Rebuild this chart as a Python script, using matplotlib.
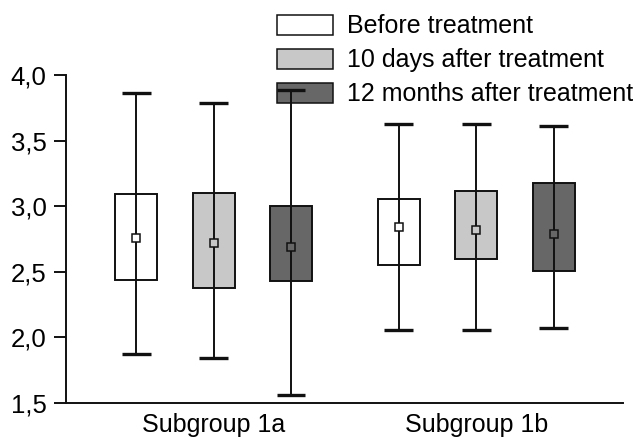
import matplotlib
matplotlib.use("Agg")
import matplotlib.pyplot as plt
from matplotlib.patches import Patch
import numpy as np

plt.rcParams['font.family'] = ['Liberation Sans', 'DejaVu Sans']

groups = ["Subgroup 1a", "Subgroup 1b"]
series = ["Before treatment", "10 days after treatment", "12 months after treatment"]
colors = ["#ffffff", "#c8c8c8", "#676767"]

# per series: values for [Subgroup 1a, Subgroup 1b]
box_low = [[2.435, 2.552], [2.379, 2.595], [2.428, 2.504]]
box_high = [[3.09, 3.055], [3.10, 3.114], [3.00, 3.175]]
means = [[2.76, 2.841], [2.72, 2.819], [2.69, 2.788]]
whisk_low = [[1.873, 2.056], [1.84, 2.056], [1.559, 2.069]]
whisk_high = [[3.865, 3.627], [3.784, 3.624], [3.888, 3.611]]

yticks = [1.5, 2.0, 2.5, 3.0, 3.5, 4.0]
ytick_labels = ["1,5", "2,0", "2,5", "3,0", "3,5", "4,0"]

fig = plt.figure(figsize=(6.34, 4.37), dpi=100)
ax = fig.add_axes([0.104, 0.078, 0.879, 0.750])
ax.patch.set_visible(False)

x = np.arange(len(groups))
offset = 0.295
width = 0.16
cap = 0.055
edge = "#111111"

for i in range(len(series)):
    xs = x + (i - 1) * offset
    lo = np.array(box_low[i])
    hi = np.array(box_high[i])
    ax.bar(xs, hi - lo, bottom=lo, width=width, color=colors[i],
           edgecolor=edge, linewidth=1.4, zorder=2)
    ax.vlines(xs, whisk_low[i], whisk_high[i], color=edge, linewidth=1.4, zorder=3)
    ax.hlines(whisk_low[i], xs - cap, xs + cap, color=edge, linewidth=2.4, zorder=3)
    ax.hlines(whisk_high[i], xs - cap, xs + cap, color=edge, linewidth=2.4, zorder=3)
    ax.plot(xs, means[i], linestyle="none", marker="s", markersize=6,
            markerfacecolor=colors[i], markeredgecolor=edge, markeredgewidth=1.1, zorder=4)

ax.set_xlim(-0.562, 1.56)
ax.set_ylim(1.5, 4.0)
ax.set_yticks(yticks)
ax.set_yticklabels(ytick_labels)
ax.set_xticks(x)
ax.set_xticklabels(groups)
ax.tick_params(axis="y", length=9, width=1.4, labelsize=18.5, pad=5, color=edge)
ax.tick_params(axis="x", length=0, labelsize=18, pad=7)
for s in ["top", "right"]:
    ax.spines[s].set_visible(False)
for s in ["left", "bottom"]:
    ax.spines[s].set_linewidth(1.4)
    ax.spines[s].set_color(edge)

handles = [Patch(facecolor=c, edgecolor=edge, linewidth=1.1) for c in colors]
leg = fig.legend(handles, series, loc="upper left", bbox_to_anchor=(0.437, 0.967),
                 frameon=False, fontsize=18, handlelength=2.24, handleheight=0.88,
                 handletextpad=0.56, labelspacing=0.4, borderpad=0, borderaxespad=0)
leg.set_zorder(-1)

fig.savefig("out.png", dpi=100)
